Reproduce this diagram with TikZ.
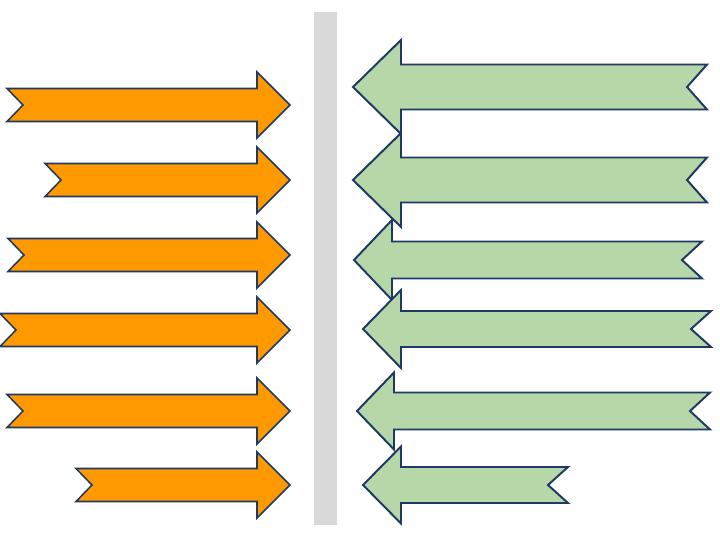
\documentclass[tikz,border=0pt]{standalone}
\definecolor{arroworange}{RGB}{255,153,0}
\definecolor{arrowgreen}{RGB}{182,215,168}
\definecolor{arrowedge}{RGB}{31,56,100}
\definecolor{bargray}{RGB}{217,217,217}
\begin{document}
\begin{tikzpicture}[
  x=0.025cm, y=-0.025cm,
  outarrow/.style={fill=arroworange, draw=arrowedge, line width=1.1pt, line join=miter},
  inarrow/.style={fill=arrowgreen, draw=arrowedge, line width=1.4pt, line join=miter},
  divider/.style={fill=bargray, draw=none}
]
\useasboundingbox (0,0) rectangle (720,540);

% Divider bar
\fill[divider] (314,12) rectangle (337,525);

% Orange arrows, pointing right
\foreach \tx/\cy in {7/105, 45/180, 8/255, 0/330, 7/411, 76/485} {
  \draw[outarrow] (\tx,\cy-16.5) -- (257,\cy-16.5) -- (257,\cy-33) -- (290,\cy)
    -- (257,\cy+33) -- (257,\cy+16.5) -- (\tx,\cy+16.5) -- (\tx+16,\cy) -- cycle;
}

% Green arrows, pointing left
\foreach \tip/\base/\tx/\cy/\hs/\hh in {353/401/707/87/22.5/47, 353/401/707/180/22.5/47,
    354/392/702/260/18.5/40, 363/401/711/329/18/39, 357/394/710/411/18.5/38.5,
    363/401/568/485/18/38.5} {
  \draw[inarrow] (\tip,\cy) -- (\base,\cy-\hh) -- (\base,\cy-\hs) -- (\tx,\cy-\hs)
    -- (\tx-20,\cy) -- (\tx,\cy+\hs) -- (\base,\cy+\hs) -- (\base,\cy+\hh) -- cycle;
}

\end{tikzpicture}
\end{document}
